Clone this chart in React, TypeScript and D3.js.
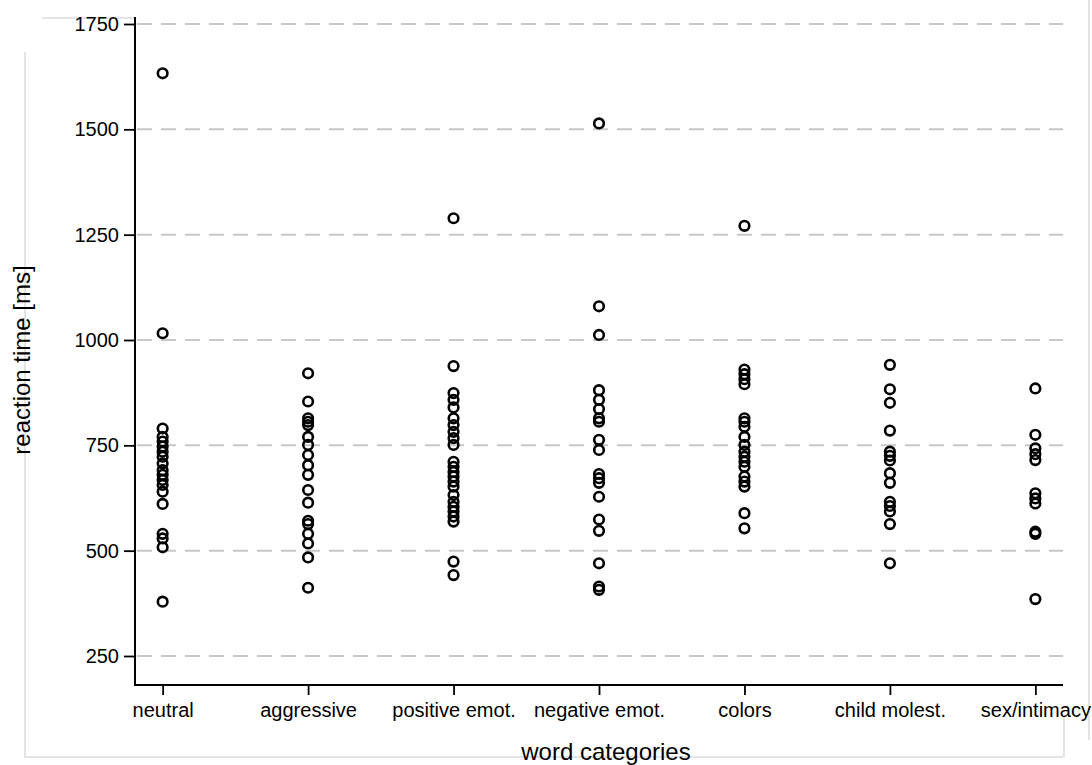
import { useEffect, useRef } from "react";
import * as d3 from "d3";

const categories = [
  "neutral",
  "aggressive",
  "positive emot.",
  "negative emot.",
  "colors",
  "child molest.",
  "sex/intimacy",
];

// reaction times [ms] per category
const neutral = [1633, 1016, 790, 770, 759, 747, 735, 723, 707, 691, 680, 668, 656, 640, 611, 540, 529, 508, 379];
const aggressive = [921, 854, 814, 806, 798, 770, 751, 727, 703, 680, 644, 614, 571, 563, 540, 517, 484, 412];
const positiveEmot = [1289, 938, 874, 858, 840, 814, 798, 782, 767, 751, 711, 699, 687, 676, 664, 652, 632, 616, 604, 593, 581, 569, 474, 442];
const negativeEmot = [1514, 1080, 1012, 881, 858, 836, 814, 806, 763, 739, 682, 672, 661, 628, 574, 547, 470, 415, 407];
const colors = [1271, 930, 919, 907, 895, 814, 806, 794, 770, 751, 735, 723, 711, 699, 676, 664, 652, 589, 553];
const childMolest = [941, 883, 851, 785, 735, 725, 714, 684, 661, 616, 606, 593, 563, 470];
const sexIntimacy = [885, 775, 743, 729, 715, 636, 624, 612, 545, 540, 385];

const seriesValues = [neutral, aggressive, positiveEmot, negativeEmot, colors, childMolest, sexIntimacy];
const yTicks = [250, 500, 750, 1000, 1250, 1500, 1750];

const width = 1092;
const height = 765;
const font = "'Liberation Sans', Arial, sans-serif";

export default function App() {
  const svgRef = useRef<SVGSVGElement>(null);

  useEffect(() => {
    if (!svgRef.current) return;
    const svg = d3.select(svgRef.current);
    svg.selectAll("*").remove();

    const left = 135;
    const right = 1063;
    const axisBottom = 685;
    const axisTop = 17;

    const x = d3.scalePoint<string>().domain(categories).range([left, right]).padding(0.19);
    const y = d3.scaleLinear().domain([250, 1750]).range([656, 24]);

    const points = seriesValues.flatMap((vals, i) =>
      vals.map((v) => ({ cat: categories[i], v }))
    );

    // faint frame around the figure
    const frame = svg.append("g").attr("stroke", "#e4e4e4").attr("stroke-width", 2).attr("fill", "none");
    frame.append("path").attr("d", `M25,52 V757 H${right}`);
    frame.append("path").attr("d", `M42,18 H${left}`);
    frame.append("path").attr("d", `M${right + 1},717 V757`);
    frame.append("path").attr("d", `M1089,0 V740`);

    // grid lines
    svg.append("g")
      .selectAll("line")
      .data(yTicks)
      .join("line")
      .attr("x1", left + 2)
      .attr("x2", right)
      .attr("y1", (d) => y(d))
      .attr("y2", (d) => y(d))
      .attr("stroke", "#c8c8c8")
      .attr("stroke-width", 2)
      .attr("stroke-dasharray", "15,9");

    // y axis
    svg.append("g")
      .attr("transform", `translate(${left},0)`)
      .call(d3.axisLeft(y).tickValues(yTicks).tickSize(11).tickPadding(5).tickFormat(d3.format("d")))
      .call((g) => g.select(".domain").remove())
      .call((g) => g.selectAll(".tick line").attr("stroke", "#000").attr("stroke-width", 1.8))
      .call((g) =>
        g.selectAll(".tick text")
          .attr("fill", "#000")
          .attr("font-size", 20)
          .attr("font-family", font)
      );

    // x axis
    svg.append("g")
      .attr("transform", `translate(0,${axisBottom})`)
      .call(d3.axisBottom(x).tickSize(10).tickPadding(8))
      .call((g) => g.select(".domain").remove())
      .call((g) => g.selectAll(".tick line").attr("stroke", "#000").attr("stroke-width", 1.8))
      .call((g) =>
        g.selectAll(".tick text")
          .attr("fill", "#000")
          .attr("font-size", 20)
          .attr("font-family", font)
      );

    // axis lines
    svg.append("path")
      .attr("d", `M${left},${axisTop} V${axisBottom} H${right}`)
      .attr("fill", "none")
      .attr("stroke", "#000")
      .attr("stroke-width", 2);

    // points
    svg.append("g")
      .selectAll("circle")
      .data(points)
      .join("circle")
      .attr("cx", (d) => x(d.cat) as number)
      .attr("cy", (d) => y(d.v))
      .attr("r", 4.8)
      .attr("fill", "none")
      .attr("stroke", "#000")
      .attr("stroke-width", 2.6);

    // titles
    svg.append("text")
      .attr("x", 606)
      .attr("y", 760)
      .attr("text-anchor", "middle")
      .attr("font-family", font)
      .attr("font-size", 24)
      .attr("fill", "#000")
      .text("word categories");

    svg.append("text")
      .attr("transform", `translate(30,360) rotate(-90)`)
      .attr("text-anchor", "middle")
      .attr("font-family", font)
      .attr("font-size", 24)
      .attr("fill", "#000")
      .text("reaction time [ms]");
  }, []);

  return (
    <div style={{ position: "absolute", left: 0, top: 0, background: "#fff" }}>
      <svg ref={svgRef} width={width} height={height} style={{ display: "block" }} />
    </div>
  );
}
